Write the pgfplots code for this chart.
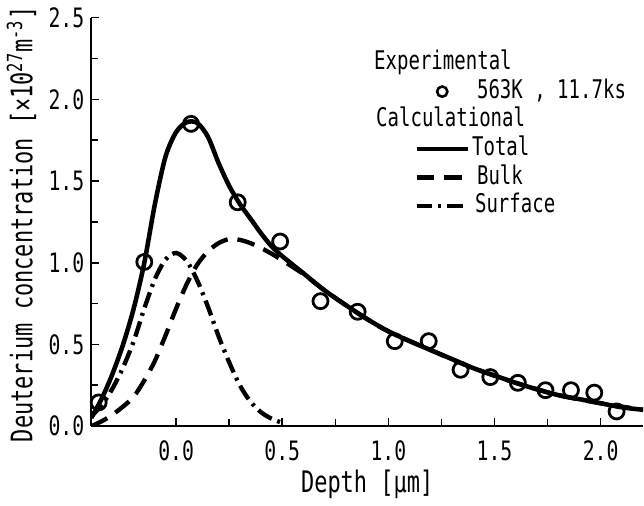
\documentclass[border=0pt]{standalone}
\usepackage{fontspec}
\setmainfont{DejaVu Sans Mono}[FakeStretch=0.74]
\usepackage{pgfplots}
\usepackage{pgfplotstable}
\pgfplotsset{compat=1.18}

\pgfplotsset{
    lineleg/.style={legend image code/.code={\path[draw=none,fill=none] (0pt,-1pt) rectangle (26pt,1pt); \draw[##1] (0pt,0pt) -- (#1,0pt);}},
    markleg/.style={legend image code/.code={\path[draw=none,fill=none] (0pt,-1pt) rectangle (26pt,1pt); \draw[mark repeat=2,mark phase=2,##1] plot coordinates {(0pt,0pt) (13pt,0pt) (26pt,0pt)};}},
}

% measured points (563K, 11.7ks)
\pgfplotstableread{
x y
-0.365 0.145
-0.15 1.005
0.07 1.85
0.29 1.37
0.49 1.13
0.68 0.765
0.855 0.70
1.03 0.52
1.19 0.52
1.34 0.345
1.48 0.30
1.61 0.265
1.74 0.22
1.86 0.22
1.97 0.205
2.075 0.09
}\expdata

\pgfplotstableread{
x y
-0.40 0.05
-0.35 0.17
-0.30 0.32
-0.25 0.50
-0.20 0.72
-0.15 1.00
-0.10 1.36
-0.05 1.65
0.00 1.80
0.05 1.86
0.10 1.855
0.15 1.77
0.20 1.61
0.25 1.47
0.30 1.36
0.35 1.27
0.40 1.18
0.45 1.10
0.50 1.04
0.60 0.935
0.70 0.83
0.80 0.74
0.90 0.655
1.00 0.58
1.10 0.52
1.20 0.465
1.30 0.41
1.40 0.355
1.50 0.31
1.60 0.265
1.70 0.225
1.80 0.19
1.90 0.165
2.00 0.14
2.10 0.115
2.20 0.10
}\total

\pgfplotstableread{
x y
-0.40 0.00
-0.35 0.03
-0.30 0.07
-0.25 0.12
-0.20 0.18
-0.15 0.28
-0.10 0.40
-0.05 0.555
0.00 0.72
0.05 0.87
0.10 0.99
0.15 1.07
0.20 1.12
0.25 1.145
0.30 1.14
0.35 1.12
0.40 1.09
0.45 1.055
0.50 1.015
0.60 0.93
0.70 0.83
0.80 0.74
0.90 0.655
1.00 0.58
1.20 0.465
1.40 0.355
1.60 0.265
1.80 0.19
2.00 0.14
2.20 0.10
}\bulk

\pgfplotstableread{
x y
-0.40 0.06
-0.35 0.13
-0.30 0.23
-0.25 0.36
-0.20 0.52
-0.15 0.72
-0.10 0.90
-0.05 1.02
0.00 1.06
0.05 1.01
0.10 0.89
0.15 0.73
0.20 0.55
0.25 0.39
0.30 0.25
0.35 0.15
0.40 0.085
0.45 0.045
0.50 0.02
}\surface

\begin{document}
\begin{tikzpicture}
\begin{axis}[
    scale only axis,
    width=279pt, height=206.5pt,
    xmin=-0.4, xmax=2.2, ymin=0, ymax=2.5,
    axis x line*=bottom, axis y line*=left,
    axis line style={line width=0.9pt},
    tick align=inside,
    xtick={0,0.5,1,1.5,2}, ytick={0,0.5,1,1.5,2,2.5},
    minor x tick num=1, minor y tick num=1,
    tick style={line width=0.8pt, black},
    major tick length=4pt, minor tick length=3.5pt,
    ticklabel style={font=\fontsize{13.5}{15}\selectfont},
    xticklabel style={yshift=-4pt},
    /pgf/number format/.cd, fixed, fixed zerofill, precision=1, assume math mode=true,
    /pgfplots/.cd,
    xlabel={\fontsize{15}{17}\selectfont Depth [μm]},
    xlabel style={at={(axis description cs:0.5,0)}, anchor=base, yshift=-33.5pt},
    ylabel={\fontsize{15}{17}\selectfont Deuterium concentration [×10\textsuperscript{27}m\textsuperscript{-3}]},
    ylabel style={at={(axis description cs:-0.087,0.494)}, anchor=south},
    legend style={draw=none, fill=none, at={(0.574,0.935)}, anchor=north west,
        row sep=0pt, nodes={inner sep=1pt, text height=9.5pt, text depth=3pt},
        font=\fontsize{13}{15}\selectfont},
    legend cell align=left,
]
\addplot[forget plot, black, line width=2.2pt, dash pattern=on 9pt off 5pt, smooth] table {\bulk};
\addplot[forget plot, black, line width=2.2pt, dash pattern=on 8pt off 3pt on 1.5pt off 3pt, smooth] table {\surface};
\addplot[forget plot, black, line width=2.3pt, smooth] table {\total};
\addplot[forget plot, only marks, mark=o, mark size=3.8pt, line width=1.4pt, black] table {\expdata};

\addlegendimage{empty legend}
\addlegendentry{\hspace*{-49.5pt}Experimental}
\addlegendimage{only marks, mark=o, mark size=2.6pt, line width=1.3pt, black, markleg}
\addlegendentry{\hspace*{2.5pt}563K , 11.7ks}
\addlegendimage{empty legend}
\addlegendentry{\hspace*{-48.5pt}Calculational}
\addlegendimage{black, line width=2.2pt, lineleg=26pt}
\addlegendentry{Total}
\addlegendimage{black, line width=2.2pt, dash pattern=on 9pt off 5pt, lineleg=23pt}
\addlegendentry{\hspace*{2.5pt}Bulk}
\addlegendimage{black, line width=2.2pt, dash pattern=on 8pt off 3pt on 1.5pt off 3pt, lineleg=26pt}
\addlegendentry{\hspace*{1.5pt}Surface}
\end{axis}
\end{tikzpicture}
\end{document}
